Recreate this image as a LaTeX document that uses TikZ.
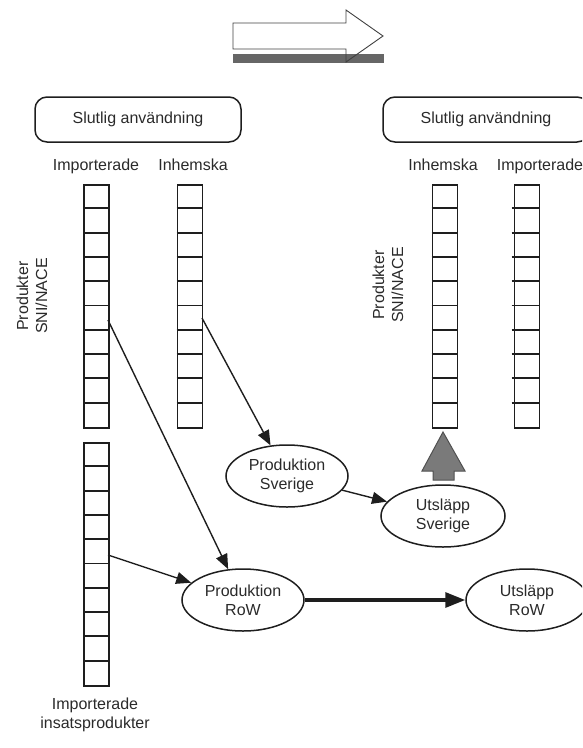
\documentclass[tikz,border=0pt]{standalone}
\usepackage{fontspec}
\setmainfont{Liberation Sans}
\usetikzlibrary{arrows.meta,shapes.geometric}
\definecolor{txt}{HTML}{2A2A2A}
\definecolor{linec}{HTML}{1E1E1E}
\definecolor{bargray}{HTML}{666666}
\definecolor{upgray}{HTML}{7A7A7A}
\definecolor{upline}{HTML}{505050}
\newcommand\mycol[4]{%
  \node[cellbox, anchor=north west] (#1) at (#2,#3) {};
  \foreach \i in {1,...,9}
    \draw[cellline] ($(#1.north west)+(-#4,\i*24.3)$) -- ++(25+#4,0);
}
\usetikzlibrary{calc}
\begin{document}
\begin{tikzpicture}[x=1pt,y=-1pt,
  font=\fontsize{16}{19}\selectfont, text=txt,
  cellbox/.style={draw=linec, line width=1.9pt, minimum width=25pt, minimum height=243pt, inner sep=0pt},
  cellline/.style={draw=linec, line width=1.9pt},
  ell/.style={ellipse, draw=linec, line width=1.5pt, minimum width=122pt, minimum height=62pt, inner sep=0pt, align=center},
  rbox/.style={draw=linec, line width=1.5pt, rounded corners=12pt, minimum width=206pt, minimum height=45pt, inner sep=0pt},
  lbl/.style={anchor=base, inner sep=0pt},
  conn/.style={draw=linec, line width=1.4pt, -{Triangle[length=15pt,width=12pt]}},
  thickconn/.style={draw=linec, line width=3.2pt, -{Triangle[length=20pt,width=15pt]}}]
\useasboundingbox (0,0) rectangle (582,748);
\begin{scope}
\clip (0,0) rectangle (582,748);
% top direction arrow
\fill[bargray] (233,54) rectangle (384,63);
\draw[line width=0.9pt, draw=black!75] (233,23) -- (346,23) -- (346,10) -- (383,36) -- (346,62) -- (346,49) -- (233,49) -- cycle;
% boxes
\node[rbox] (boxL) at (138,119.5) {Slutlig användning};
\node[rbox] (boxR) at (486,119.5) {Slutlig användning};
% column headers
\node[lbl] (hImpL) at (96,170) {Importerade};
\node[lbl] (hInhL) at (193,170) {Inhemska};
\node[lbl] (hInhR) at (443,170) {Inhemska};
\node[lbl] (hImpR) at (540,170) {Importerade};
% rotated labels
\node[rotate=90, align=center, inner sep=0pt] (prodL) at (32,296) {Produkter\\SNI/NACE};
\node[rotate=90, align=center, inner sep=0pt] (prodR) at (388,285) {Produkter\\SNI/NACE};
% columns
\mycol{impL}{83}{184}{0}
\mycol{inhL}{176.5}{184}{0}
\mycol{insats}{83}{442}{0}
\mycol{inhR}{431.5}{184}{0}
\mycol{impR}{513.5}{184}{2}
% bottom label
\node[align=center, inner sep=0pt, anchor=base] (insLbl) at (95,728) {Importerade\\insatsprodukter};
% ellipses
\node[ell] (pSve) at (287,476) {Produktion\\Sverige};
\node[ell, minimum width=124pt] (uSve) at (443,516) {Utsläpp\\Sverige};
\node[ell] (pRow) at (243,600) {Produktion\\RoW};
\node[ell] (uRow) at (527,600) {Utsläpp\\RoW};
% connector start points
\coordinate (s1) at (108,320);
\coordinate (s2) at (202,318);
\coordinate (s3) at (108,555);
\draw[conn] (s1) -- (pRow);
\draw[conn] (s2) -- (pSve);
\draw[conn] (s3) -- (pRow);
\draw[conn] (pSve) -- (uSve);
\draw[thickconn] (pRow) -- (uRow);
% gray up arrow
\draw[fill=upgray, draw=upline, line width=1pt] (433,480) -- (433,471) -- (422,471) -- (443,432) -- (465,471) -- (454,471) -- (454,480) -- cycle;
\end{scope}
\end{tikzpicture}
\end{document}
